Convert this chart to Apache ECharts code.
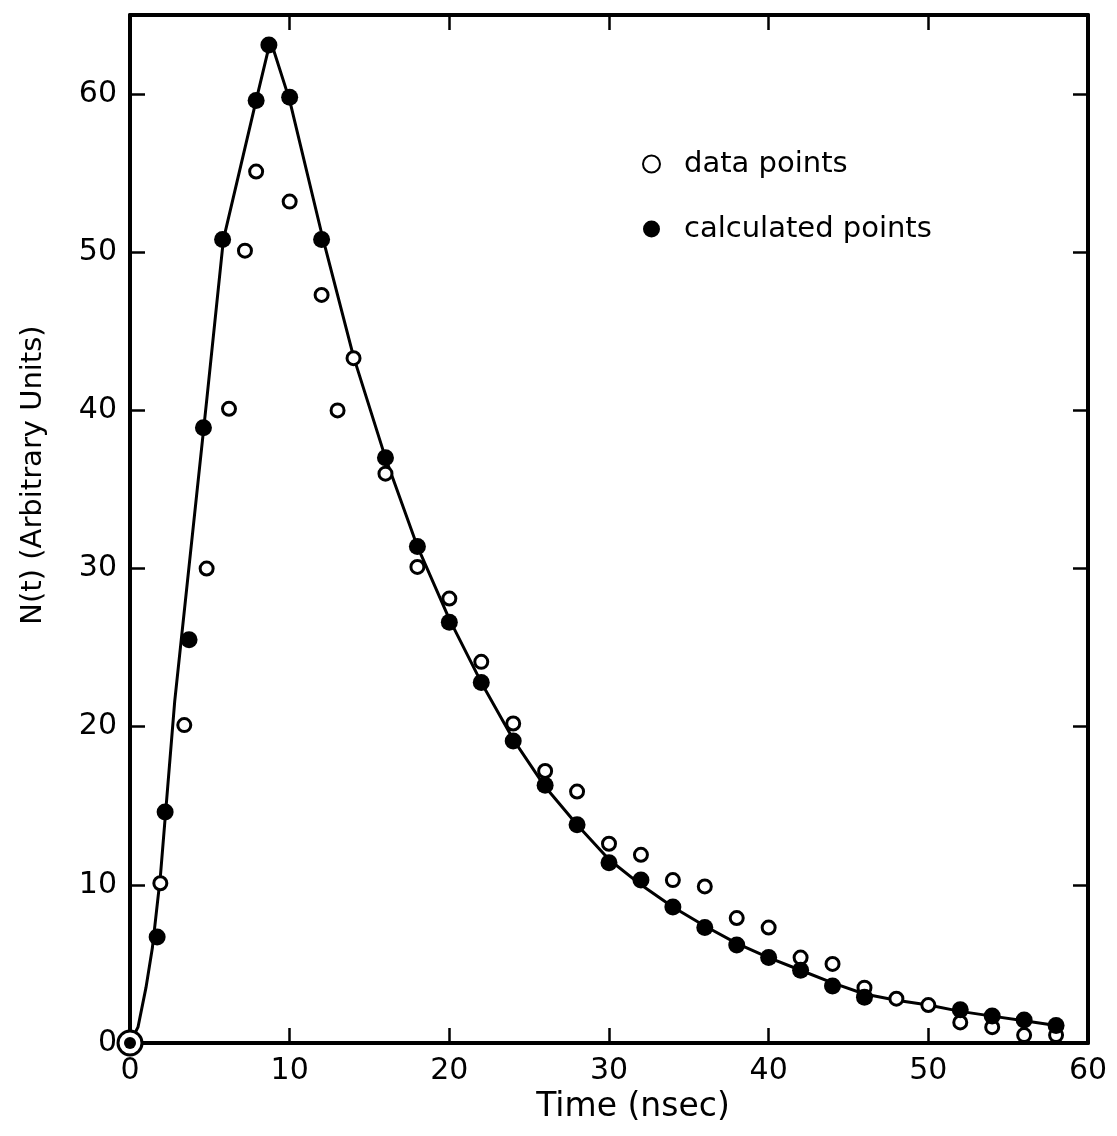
<!DOCTYPE html>
<html><head><meta charset="utf-8">
<script src="https://cdn.jsdelivr.net/npm/echarts@6/dist/echarts.min.js"></script>
<style>html,body{margin:0;padding:0;background:#fff}#c{width:1117px;height:1136px}</style>
</head><body><div id="c"></div>
<script>
// Solid curve
const curveX = [0, 0.5, 1.0, 1.4, 1.9, 2.8, 4.8, 5.85, 7.9, 8.8, 10, 12, 14, 16, 18, 20, 22, 24, 26, 28, 30, 32, 34, 36, 38, 40, 42, 44, 46, 48, 50, 52, 54, 56, 58];
const curveY = [0, 1.0, 3.5, 6.0, 10.5, 21.6, 40.6, 50.8, 59.6, 63.4, 59.6, 51.2, 43.4, 37.0, 31.4, 26.8, 22.8, 19.2, 16.2, 13.8, 11.6, 10.0, 8.6, 7.4, 6.3, 5.4, 4.6, 3.8, 3.1, 2.7, 2.4, 2.0, 1.7, 1.4, 1.1];
// Open circles: data points
const dataX = [0, 1.9, 3.4, 4.8, 6.2, 7.2, 7.9, 10, 12, 13, 14, 16, 18, 20, 22, 24, 26, 28, 30, 32, 34, 36, 38, 40, 42, 44, 46, 48, 50, 52, 54, 56, 58];
const dataY = [0, 10.1, 20.1, 30.0, 40.1, 50.1, 55.1, 53.2, 47.3, 40.0, 43.3, 36.0, 30.1, 28.1, 24.1, 20.2, 17.2, 15.9, 12.6, 11.9, 10.3, 9.9, 7.9, 7.3, 5.4, 5.0, 3.5, 2.8, 2.4, 1.3, 1.0, 0.5, 0.5];
// Filled circles: calculated points
const calcX = [0, 1.7, 2.2, 3.7, 4.6, 5.8, 7.9, 8.7, 10, 12, 16, 18, 20, 22, 24, 26, 28, 30, 32, 34, 36, 38, 40, 42, 44, 46, 52, 54, 56, 58];
const calcY = [0, 6.7, 14.6, 25.5, 38.9, 50.8, 59.6, 63.1, 59.8, 50.8, 37.0, 31.4, 26.6, 22.8, 19.1, 16.3, 13.8, 11.4, 10.3, 8.6, 7.3, 6.2, 5.4, 4.6, 3.6, 2.9, 2.1, 1.7, 1.45, 1.1];
// Tick values
const xTicks = [0, 10, 20, 30, 40, 50, 60];
const yTicks = [0, 10, 20, 30, 40, 50, 60];
const xName = 'Time (nsec)';
const yName = 'N(t) (Arbitrary Units)';
const legendNames = ['data points', 'calculated points'];

const FONT = 'DejaVu Sans';
const chart = echarts.init(document.getElementById('c'));
function axis(extra, ticks, showLabel) {
  return Object.assign({
    type: 'value',
    axisLine: { show: true, onZero: false, lineStyle: { color: '#000', width: 4 } },
    axisTick: { show: true, inside: true, length: 15, customValues: ticks, lineStyle: { color: '#000', width: 2.5 } },
    axisLabel: showLabel
      ? { show: true, customValues: ticks, color: '#000', fontFamily: FONT, fontSize: 30, margin: 13 }
      : { show: false },
    splitLine: { show: false }
  }, extra);
}
const curve = curveX.map((x, i) => [x, curveY[i]]);
const openPts = dataX.map((x, i) => i === 0 && dataY[i] === 0
  ? { value: [x, dataY[i]], symbolSize: 24, itemStyle: { borderWidth: 3 } }
  : [x, dataY[i]]);
const calcPts = calcX.map((x, i) => i === 0 && calcY[i] === 0
  ? { value: [x, calcY[i]], symbolSize: 12 }
  : [x, calcY[i]]);

chart.setOption({
  animation: false,
  backgroundColor: '#fff',
  grid: { left: 130, right: 29, top: 15, bottom: 93, containLabel: false },
  xAxis: [
    axis({ min: 0, max: 60, interval: 10, position: 'bottom',
      name: xName, nameLocation: 'middle', nameGap: 35,
      nameTextStyle: { color: '#000', fontFamily: FONT, fontSize: 33, padding: [0, 0, 0, 48] } }, xTicks, true),
    axis({ min: 0, max: 60, interval: 10, position: 'top' }, xTicks, false)
  ],
  yAxis: [
    axis({ min: 0, max: 65, interval: 10, position: 'left',
      name: yName, nameLocation: 'middle', nameGap: 82, nameRotate: 90,
      nameTextStyle: { color: '#000', fontFamily: FONT, fontSize: 29, padding: [0, 0, 0, 108] } }, yTicks, true),
    axis({ min: 0, max: 65, interval: 10, position: 'right' }, yTicks, false)
  ],
  legend: {
    orient: 'vertical', left: 637, top: 144,
    itemWidth: 17, itemHeight: 17, itemGap: 35,
    selectedMode: false,
    textStyle: { color: '#000', fontFamily: FONT, fontSize: 29, lineHeight: 30, padding: [0, 0, 0, 19] },
    data: [{ name: legendNames[0], icon: 'circle' }, { name: legendNames[1], icon: 'circle' }]
  },
  series: [
    { type: 'line', data: curve, showSymbol: false, silent: true, z: 2, xAxisIndex: 0, yAxisIndex: 0,
      lineStyle: { color: '#000', width: 3 } },
    { name: legendNames[0], type: 'scatter', data: openPts, symbol: 'circle', symbolSize: 13, z: 3,
      xAxisIndex: 0, yAxisIndex: 0,
      itemStyle: { color: '#fff', borderColor: '#000', borderWidth: 3, opacity: 1 } },
    { name: legendNames[1], type: 'scatter', data: calcPts, symbol: 'circle', symbolSize: 17, z: 4,
      xAxisIndex: 0, yAxisIndex: 0,
      itemStyle: { color: '#000', opacity: 1 } }
  ]
});
</script></body></html>
